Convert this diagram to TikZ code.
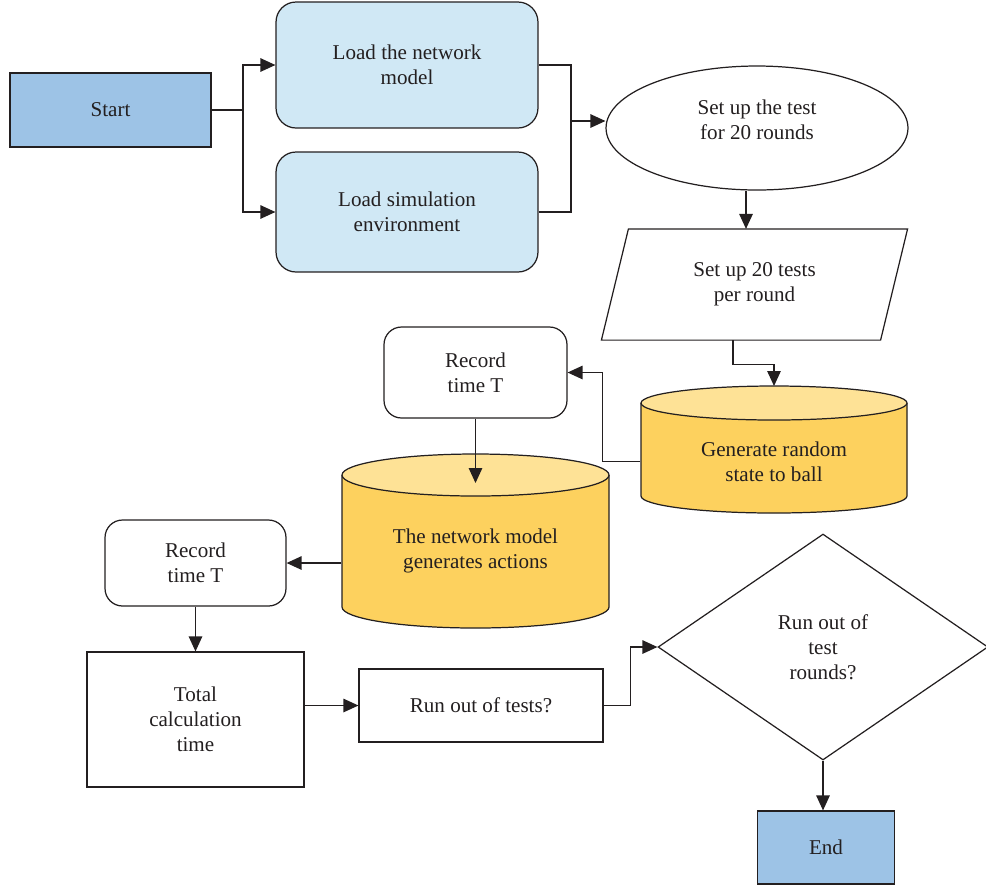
\documentclass[tikz,border=0pt]{standalone}
\usepackage{fontspec}
\setmainfont{Liberation Serif}
\usepackage{xcolor}
\usepackage{tikz}
\usetikzlibrary{arrows.meta, positioning, shapes.geometric, calc}

\definecolor{inkgray}{RGB}{35,31,32}
\definecolor{termblue}{RGB}{157,195,230}
\definecolor{loadblue}{RGB}{208,232,245}
\definecolor{drumbody}{RGB}{253,209,94}
\definecolor{drumtop}{RGB}{254,226,150}

\tikzset{
  arr/.style={-{Triangle[length=0.3cm,width=0.27cm]}},
  flowtext/.style={text=inkgray, align=center, font=\fontsize{12}{14.2}\selectfont, inner sep=0pt},
  termbox/.style={flowtext, draw=inkgray, fill=termblue, rectangle},
  loadbox/.style={flowtext, draw=inkgray, fill=loadblue, rounded corners=0.4cm},
  recbox/.style={flowtext, draw=inkgray, fill=white, rounded corners=0.35cm},
  plainbox/.style={flowtext, draw=inkgray, fill=white, rectangle},
  drumline/.style={draw=inkgray},
}

% cylinder: centre x, top y, bottom y, half width, end radius (px)
\newcommand{\drumshape}[5]{%
  \fill[drumbody] (#1-#4,#2) -- (#1-#4,#3)
    arc[start angle=180, end angle=360, x radius=#4*0.02cm, y radius=#5*0.02cm]
    -- (#1+#4,#2) -- cycle;
  \draw[drumline] (#1-#4,#2) -- (#1-#4,#3)
    arc[start angle=180, end angle=360, x radius=#4*0.02cm, y radius=#5*0.02cm]
    -- (#1+#4,#2);
  \filldraw[drumline, fill=drumtop] (#1,#2) ellipse[x radius=#4*0.02cm, y radius=#5*0.02cm];
}

\begin{document}
\begin{tikzpicture}[x=0.02cm, y=-0.02cm, line width=0.7pt, draw=inkgray]
\useasboundingbox (0,0) rectangle (986,887);

% Start and loading
\node[termbox, minimum width=4.02cm, minimum height=1.48cm] (start) at (110.5,110) {Start};
\node[loadbox, minimum width=5.24cm, minimum height=2.52cm] (net) at (407,65) {Load the network\\model};
\node[loadbox, minimum width=5.24cm, minimum height=2.4cm] (env) at (407,212) {Load simulation\\environment};
\coordinate (split) at (243,110);
\coordinate (merge) at (571,121);
\draw (start.east) -- (split);
\draw[arr] (split) |- (net.west);
\draw[arr] (split) |- (env.west);
\draw (net.east) -| (merge);
\draw (env.east) -| (merge);

% Rounds and tests
\node[flowtext, draw=inkgray, ellipse, minimum width=6.04cm, minimum height=2.48cm] (setround) at (757,128) {Set up the test\\for 20 rounds\\[-5pt]};
\node[flowtext, minimum width=5.56cm, minimum height=2.2cm] (tests) at (754.5,284.5) {Set up 20 tests\\per round};
\draw ([xshift=0.27cm]tests.north west) -- ([xshift=0.27cm]tests.north east)
  -- ([xshift=-0.27cm]tests.south east) -- ([xshift=-0.27cm]tests.south west) -- cycle;
\draw[arr] (merge) -- (merge -| setround.west);
\draw[arr] ([xshift=-0.22cm]setround.south) -- ([xshift=-0.22cm]setround.south |- tests.north);

% Random state
\drumshape{774}{403}{496}{133}{17}
\node[flowtext, minimum width=5.32cm] (ballstate) at (774,461.5) {Generate random\\state to ball};
\coordinate (balltop) at (774,386);
\draw[arr] ([xshift=-0.43cm]tests.south) -- ++(0,24) -| (balltop);

% First record
\node[recbox, minimum width=3.66cm, minimum height=1.82cm] (rec1) at (475.5,372.5) {Record\\time T};
\draw[arr] (ballstate.west) -- ++(-38,0) |- (rec1.east);

% Actions
\drumshape{475.5}{475}{607}{133.5}{21}
\node[flowtext, minimum width=5.34cm] (actions) at (475.5,550.5) {The network model\\generates actions};
\coordinate (actin) at (475.5,483);
\draw[arr] (rec1.south) -- (actin);

% Second record and total
\node[recbox, minimum width=3.62cm, minimum height=1.72cm] (rec2) at (195.5,563) {Record\\time T};
\node[plainbox, minimum width=4.34cm, minimum height=2.7cm] (total) at (195.5,719.5) {Total\\calculation\\time};
\draw[arr] (actions.west |- rec2.east) -- (rec2.east);
\draw[arr] (rec2.south) -- (total.north);

% Checks
\node[plainbox, minimum width=4.88cm, minimum height=1.46cm] (runtests) at (481,705.5) {Run out of tests?};
\node[flowtext, draw=inkgray, diamond, minimum width=6.6cm, minimum height=4.52cm] (rounds) at (823,647) {Run out of\\test\\rounds?};
\node[termbox, minimum width=2.74cm, minimum height=1.46cm] (stop) at (826,847.5) {End};
\draw[arr] (total.east |- runtests.west) -- (runtests.west);
\draw[arr] (runtests.east) -- ++(27,0) |- (rounds.west);
\draw[arr] (rounds.south) -- (rounds.south |- stop.north);
\end{tikzpicture}
\end{document}
